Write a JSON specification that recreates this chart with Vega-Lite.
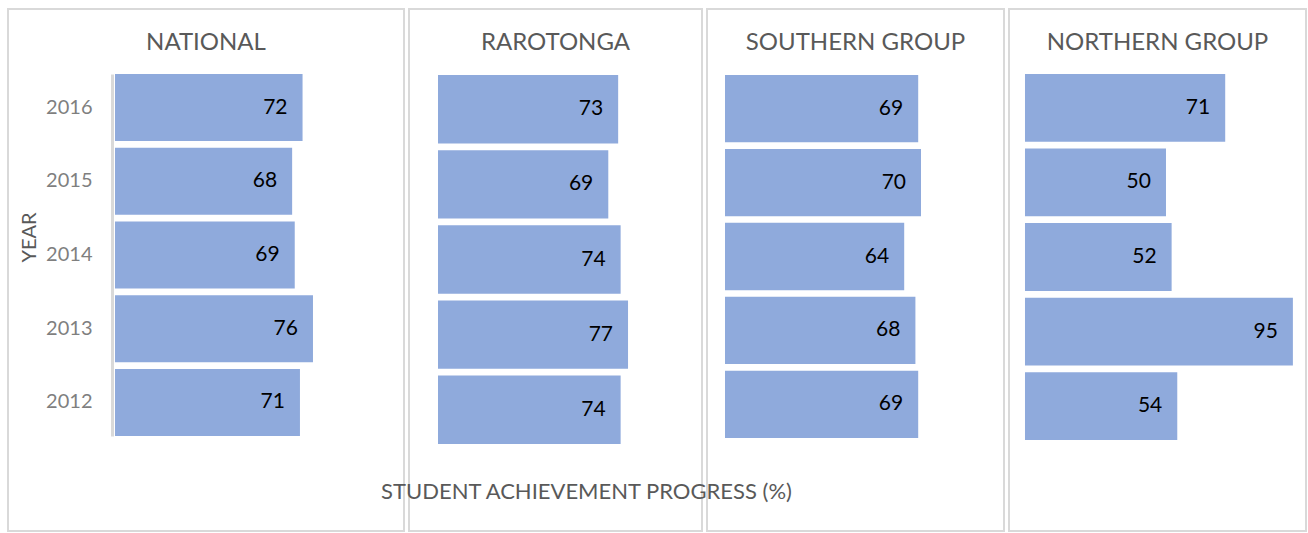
{
  "$schema": "https://vega.github.io/schema/vega-lite/v6.json",
  "padding": {"left": 7, "top": 8, "right": 0, "bottom": 0},
  "background": "white",
  "bounds": "flush",
  "spacing": 5,
  "config": {
    "view": {"stroke": "#d9d9d9", "strokeWidth": 2},
    "font": "Lato",
    "title": {"fontSize": 24, "fontWeight": "normal", "color": "#595959", "baseline": "alphabetic", "offset": -46, "anchor": "middle"}
  },
  "datasets": {
    "d": [
      {"region": "National", "year": "2016", "value": 72},
      {"region": "National", "year": "2015", "value": 68},
      {"region": "National", "year": "2014", "value": 69},
      {"region": "National", "year": "2013", "value": 76},
      {"region": "National", "year": "2012", "value": 71},
      {"region": "Rarotonga", "year": "2016", "value": 73},
      {"region": "Rarotonga", "year": "2015", "value": 69},
      {"region": "Rarotonga", "year": "2014", "value": 74},
      {"region": "Rarotonga", "year": "2013", "value": 77},
      {"region": "Rarotonga", "year": "2012", "value": 74},
      {"region": "Southern Group", "year": "2016", "value": 69},
      {"region": "Southern Group", "year": "2015", "value": 70},
      {"region": "Southern Group", "year": "2014", "value": 64},
      {"region": "Southern Group", "year": "2013", "value": 68},
      {"region": "Southern Group", "year": "2012", "value": 69},
      {"region": "Northern Group", "year": "2016", "value": 71},
      {"region": "Northern Group", "year": "2015", "value": 50},
      {"region": "Northern Group", "year": "2014", "value": 52},
      {"region": "Northern Group", "year": "2013", "value": 95},
      {"region": "Northern Group", "year": "2012", "value": 54}
    ]
  },
  "hconcat": [
    {
      "width": 396, "height": 522,
      "data": {"name": "d"},
      "transform": [{"filter": "datum.region === 'National'"}],
      "title": {"text": "NATIONAL"},
      "encoding": {
        "y": {"field": "year", "type": "ordinal", "sort": "descending",
          "scale": {"range": [65, 427], "paddingInner": 0.09, "paddingOuter": 0},
          "axis": {"offset": -104, "domainColor": "#d9d9d9", "domainWidth": 3, "ticks": false, "grid": false,
            "labelPadding": 20, "labelFontSize": 20, "labelColor": "#7f7f7f",
            "title": "YEAR", "titleFontSize": 20, "titleFontWeight": "normal", "titleColor": "#595959", "titlePadding": 6, "titleY": 228}},
        "x": {"field": "value", "type": "quantitative", "scale": {"domain": [-41.07, 110.94], "nice": false, "zero": false}, "axis": null}
      },
      "layer": [
        {"mark": {"type": "bar", "color": "#8FAADC"}},
        {"mark": {"type": "text", "align": "right", "baseline": "middle", "dx": -15, "fontSize": 21, "color": "#000000"}, "encoding": {"text": {"field": "value"}}}
      ]
    },
    {
      "width": 293, "height": 522,
      "data": {"name": "d"},
      "transform": [{"filter": "datum.region === 'Rarotonga'"}],
      "title": {"text": "RAROTONGA"},
      "encoding": {
        "y": {"field": "year", "type": "ordinal", "sort": "descending",
          "scale": {"range": [66, 435], "paddingInner": 0.09, "paddingOuter": 0}, "axis": null},
        "x": {"field": "value", "type": "quantitative", "scale": {"domain": [-11.75, 106.97], "nice": false, "zero": false},
          "axis": {"domain": false, "ticks": false, "labels": false, "grid": false,
            "title": "STUDENT ACHIEVEMENT PROGRESS (%)", "titleX": 177, "titleY": -40, "titleBaseline": "middle", "titleAlign": "center",
            "titleFontSize": 22, "titleFontWeight": "normal", "titleColor": "#595959"}}
      },
      "layer": [
        {"mark": {"type": "bar", "color": "#8FAADC"}},
        {"mark": {"type": "text", "align": "right", "baseline": "middle", "dx": -15, "fontSize": 21, "color": "#000000"}, "encoding": {"text": {"field": "value"}}}
      ]
    },
    {
      "width": 297, "height": 522,
      "data": {"name": "d"},
      "transform": [{"filter": "datum.region === 'Southern Group'"}],
      "title": {"text": "SOUTHERN GROUP"},
      "encoding": {
        "y": {"field": "year", "type": "ordinal", "sort": "descending",
          "scale": {"range": [66, 429], "paddingInner": 0.09, "paddingOuter": 0}, "axis": null},
        "x": {"field": "value", "type": "quantitative", "scale": {"domain": [-6.43, 99.64], "nice": false, "zero": false}, "axis": null}
      },
      "layer": [
        {"mark": {"type": "bar", "color": "#8FAADC"}},
        {"mark": {"type": "text", "align": "right", "baseline": "middle", "dx": -15, "fontSize": 21, "color": "#000000"}, "encoding": {"text": {"field": "value"}}}
      ]
    },
    {
      "width": 297, "height": 522,
      "data": {"name": "d"},
      "transform": [{"filter": "datum.region === 'Northern Group'"}],
      "title": {"text": "NORTHERN GROUP"},
      "encoding": {
        "y": {"field": "year", "type": "ordinal", "sort": "descending",
          "scale": {"range": [65, 431], "paddingInner": 0.09, "paddingOuter": 0}, "axis": null},
        "x": {"field": "value", "type": "quantitative", "scale": {"domain": [-5.67, 99.65], "nice": false, "zero": false}, "axis": null}
      },
      "layer": [
        {"mark": {"type": "bar", "color": "#8FAADC"}},
        {"mark": {"type": "text", "align": "right", "baseline": "middle", "dx": -15, "fontSize": 21, "color": "#000000"}, "encoding": {"text": {"field": "value"}}}
      ]
    }
  ]
}
